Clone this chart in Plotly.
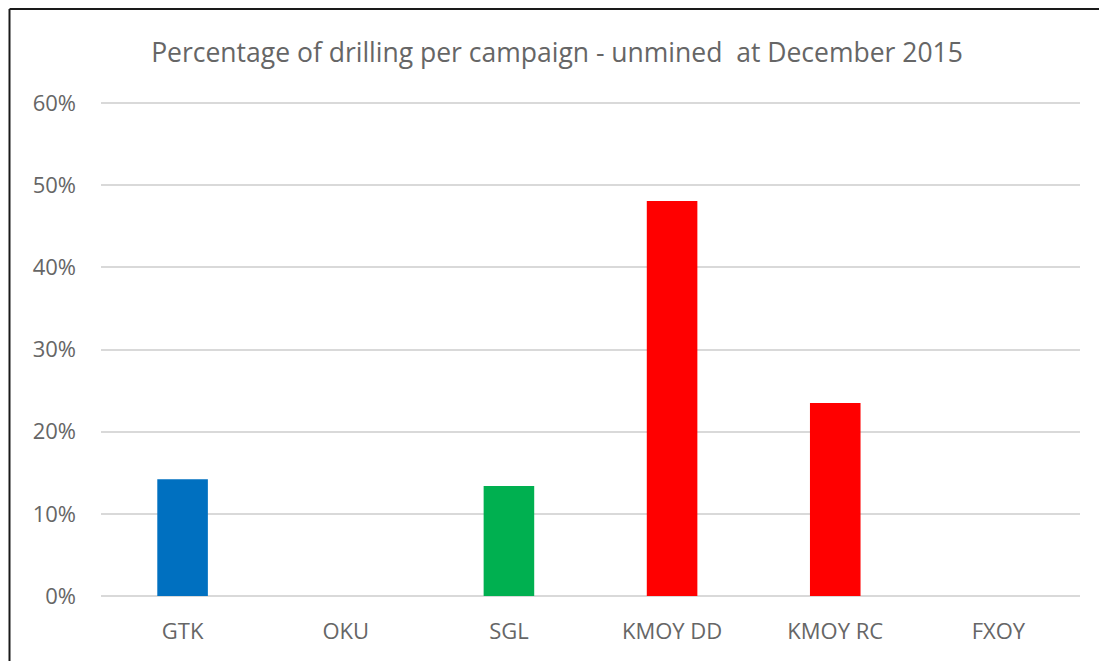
import plotly.graph_objects as go

categories = ["GTK", "OKU", "SGL", "KMOY DD", "KMOY RC", "FXOY"]
values = [0.142, 0.0, 0.134, 0.481, 0.235, 0.0]
colors = ["#0070C0", "#0070C0", "#00B050", "#FF0000", "#FF0000", "#FF0000"]
tick_vals = [0, 0.1, 0.2, 0.3, 0.4, 0.5, 0.6]

# page body has an 8px margin; size the figure so the plot lands where the reference has it
OFF = 8
W, H = 1107 - OFF, 661 - OFF
Y_TOP = 0.61
px_per_unit = (596 - 103) / 0.6
plot_top = 596 - Y_TOP * px_per_unit
L = 101 - OFF
T = int(round(plot_top - OFF))
R = W - (1080 - OFF)
B = H - (596 - OFF)
pw, ph = W - L - R, H - T - B

def px_x(x):
    return (x - OFF - L) / pw

def px_y(y):
    return (H - B - (y - OFF)) / ph

fig = go.Figure(go.Bar(x=categories, y=values, marker=dict(color=colors, line_width=0), width=0.31))

fig.update_layout(
    width=W, height=H,
    margin=dict(l=L, r=R, t=T, b=B),
    paper_bgcolor="white", plot_bgcolor="white",
    font=dict(family="Open Sans, sans-serif", color="#666666", size=22),
    title=dict(text="Percentage of drilling per campaign - unmined  at December 2015",
               x=(557 - OFF) / W, xanchor="center", y=1 - (53 - OFF) / H, yanchor="middle",
               font=dict(size=26.5, color="#666666")),
    showlegend=False,
    xaxis=dict(showgrid=False, showline=False, zeroline=False, ticks="",
               ticklabelstandoff=20, tickfont=dict(size=22, color="#666666")),
    yaxis=dict(range=[0, Y_TOP], tickvals=tick_vals, tickformat=".0%",
               showgrid=True, gridcolor="#D9D9D9", gridwidth=1.5,
               zeroline=True, zerolinecolor="#D9D9D9", zerolinewidth=1.5,
               showline=False, ticks="", ticklabelstandoff=24,
               tickfont=dict(size=22, color="#666666")),
    shapes=[
        dict(type="line", xref="paper", yref="paper", x0=px_x(9.5), x1=px_x(9.5),
             y0=px_y(9), y1=px_y(700), line=dict(color="#1a1a1a", width=2)),
        dict(type="line", xref="paper", yref="paper", x0=px_x(9.5), x1=px_x(1120),
             y0=px_y(9), y1=px_y(9), line=dict(color="#1a1a1a", width=2)),
    ],
)

fig.write_html("out.html")
